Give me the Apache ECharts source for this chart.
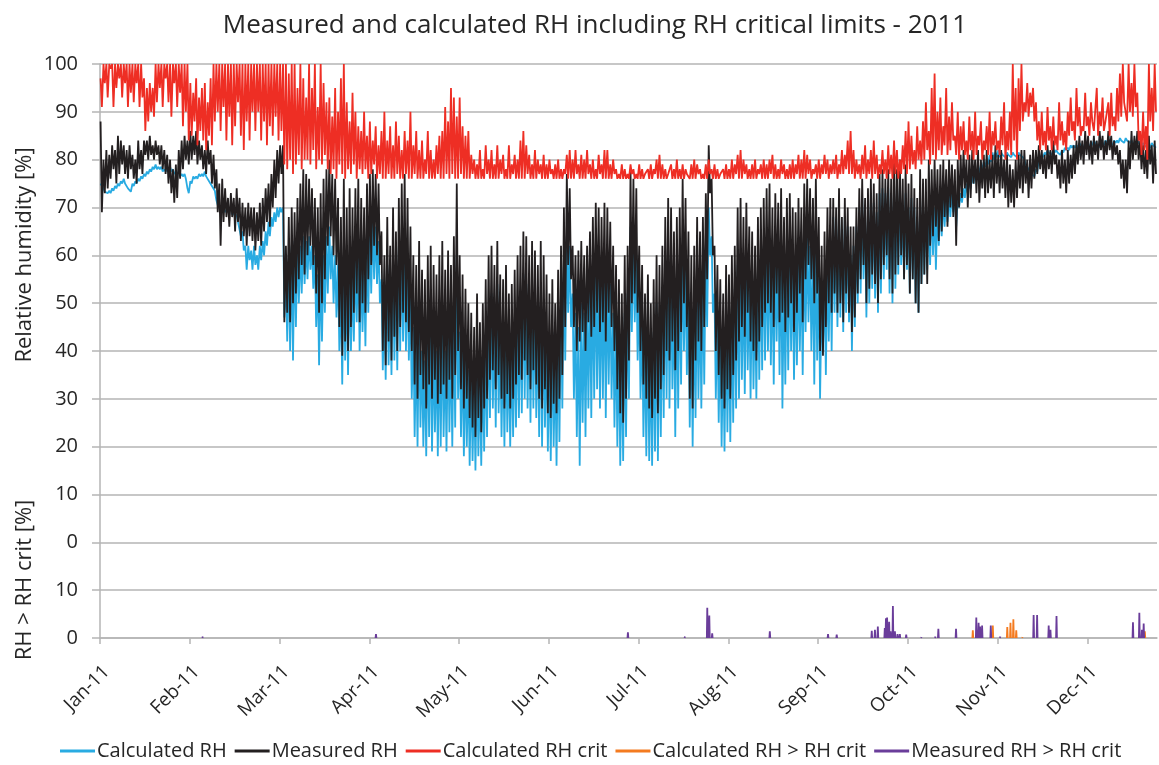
<!DOCTYPE html>
<html>
<head>
<meta charset="utf-8">
<script src="https://cdn.jsdelivr.net/npm/echarts@6/dist/echarts.min.js"></script>
<style>html,body{margin:0;padding:0;background:#fff;}#chart{width:1159px;height:765px;}</style>
</head>
<body>
<div id="chart"></div>
<script>
// x = day of year 2011 (0 = 1 Jan); the original axis labels every 31st day
const monthLabels = ['Jan-11','Feb-11','Mar-11','Apr-11','May-11','Jun-11','Jul-11','Aug-11','Sep-11','Oct-11','Nov-11','Dec-11'];

// Calculated RH crit: daily high / low envelope [%]
const critHi = [
97,100,100,100,100,100,100,100,100,100,
100,100,100,100,100,97,95,96,95,100,
100,100,100,100,100,100,100,100,100,100,
100,96,94,97,93,95,96,92,97,100,
100,100,100,100,100,100,100,100,100,100,
100,100,100,100,100,100,100,100,100,100,
100,100,100,100,100,98,100,100,95,100,
97,93,100,95,100,91,100,96,92,93,
89,95,90,97,100,92,88,94,90,87,
86,90,85,88,84,87,83,86,90,84,
87,83,88,85,82,86,84,90,83,86,
82,84,80,86,82,80,83,85,86,91,
88,95,93,89,93,87,85,86,81,80,
79,82,78,83,80,82,79,83,80,81,
78,83,79,81,80,84,86,83,81,79,
82,80,79,81,79,80,78,79,80,78,
78,81,82,80,82,79,81,80,82,79,
80,78,81,79,82,82,79,80,78,77,
79,78,77,79,78,77,79,78,77,78,
79,78,80,81,79,78,77,79,78,80,
78,79,78,77,79,80,79,78,77,79,
80,78,79,78,77,78,79,78,80,79,
81,82,80,79,78,79,80,78,79,80,
79,80,81,79,78,80,79,78,79,80,
79,81,80,82,81,80,78,79,80,79,
81,80,79,80,81,79,82,81,84,86,
82,80,79,81,83,80,82,84,81,79,
82,80,83,81,84,82,80,83,86,88,
85,82,87,84,88,92,86,95,98,90,
93,87,95,89,92,85,90,87,88,84,
89,86,90,85,88,84,87,90,86,88,
84,89,92,86,90,100,95,97,100,92,
96,94,95,92,88,90,86,91,87,89,
85,92,88,86,90,93,88,95,91,87,
94,89,92,86,95,90,93,88,92,94,
89,95,98,100,92,100,96,100,94,86,
90,87,100,95,100];
const critLo = [
91,96,93,99,91,95,97,93,96,91,
94,92,96,91,93,86,88,90,89,92,
95,91,97,92,89,96,91,94,87,90,
84,85,88,83,86,84,82,85,83,88,
90,86,91,84,89,83,87,92,85,82,
88,84,90,86,90,84,88,83,87,85,
89,84,86,79,78,80,77,79,81,78,
80,80,79,82,78,80,79,81,78,77,
78,76,79,77,76,78,77,79,76,78,
77,78,76,77,79,76,77,76,76,77,
76,76,77,76,76,77,76,76,77,76,
76,76,77,76,76,76,77,76,76,77,
76,77,76,76,77,76,76,76,77,76,
76,76,76,77,76,76,76,76,77,76,
76,76,77,76,76,76,76,77,76,76,
76,77,76,76,76,77,76,76,76,76,
77,76,76,76,77,76,76,76,77,76,
76,76,77,76,76,76,76,77,76,76,
76,76,76,77,76,76,76,76,77,76,
76,77,76,76,76,76,77,76,76,76,
76,76,77,76,76,76,77,76,76,76,
77,76,76,76,77,76,76,76,76,77,
76,76,77,76,76,76,76,77,76,76,
76,77,76,76,76,77,76,76,76,76,
77,76,76,76,77,76,77,76,76,77,
77,76,77,77,76,77,77,78,77,77,
76,77,76,77,76,77,76,77,76,77,
77,76,77,76,77,76,77,78,77,78,
79,78,80,79,80,82,79,81,80,82,
81,83,81,82,84,81,80,82,81,80,
82,80,81,83,80,82,81,80,83,82,
81,83,80,82,81,84,80,86,88,90,
89,91,88,84,82,83,82,84,82,83,
82,84,83,82,85,86,84,87,85,86,
87,85,88,86,85,87,86,88,85,87,
86,88,89,92,88,90,89,91,84,81,
82,80,88,86,90];

// Measured RH: daily high / low envelope [%]
const measHi = [
88,80,82,81,83,82,85,84,83,82,
83,81,80,84,82,84,84,85,83,84,
83,83,82,81,80,78,79,82,84,85,
84,86,85,86,84,83,82,84,82,81,
78,75,76,74,72,73,72,74,72,71,
70,71,70,70,69,71,72,74,75,77,
80,82,83,83,62,68,70,69,72,75,
78,77,76,74,72,70,73,76,78,80,
77,76,72,68,76,70,74,70,74,76,
72,70,75,77,78,77,75,65,60,68,
62,70,65,72,75,77,72,66,60,58,
63,57,55,60,62,58,56,60,63,57,
61,58,64,75,60,56,53,50,48,45,
52,46,50,55,60,62,58,63,56,55,
58,52,54,57,60,62,65,64,60,63,
61,58,63,60,56,52,55,50,57,62,
70,77,74,62,60,61,63,60,62,65,
68,71,70,68,71,70,67,62,58,55,
52,60,62,78,76,74,62,58,52,56,
50,55,60,58,62,68,72,70,65,68,
70,76,72,65,60,62,68,65,68,73,
83,76,62,58,55,52,58,56,60,62,
70,72,68,71,66,65,62,68,70,72,
74,75,70,73,71,74,68,72,73,70,
69,72,70,75,76,74,72,76,68,62,
65,70,72,72,70,74,68,72,70,66,
66,70,74,76,72,74,76,75,73,77,
78,76,78,76,83,78,80,76,79,75,
77,74,72,78,76,76,80,78,80,78,
79,80,78,80,79,78,80,81,82,80,
81,82,80,82,80,81,82,80,81,83,
81,82,80,81,79,78,80,81,82,82,
80,81,82,82,83,82,81,83,82,84,
81,80,82,80,82,81,83,84,85,84,
86,85,84,85,84,86,85,84,86,85,
84,83,82,80,80,84,86,85,86,84,
83,82,85,83,84];
const measLo = [
69,73,74,76,78,75,77,79,77,76,
78,76,75,78,77,81,80,81,80,81,
79,78,77,75,73,71,72,76,78,80,
79,80,81,79,80,78,77,79,75,74,
69,62,67,68,66,68,65,67,63,64,
62,64,63,61,63,62,65,67,66,70,
72,75,77,46,48,46,50,52,55,58,
56,60,62,58,52,48,50,55,62,64,
60,58,45,39,42,40,45,48,52,46,
50,48,55,58,62,60,58,40,37,42,
38,43,40,45,48,46,44,40,33,30,
35,32,28,33,30,34,29,31,33,30,
34,30,35,40,32,28,30,26,24,22,
26,23,28,30,34,36,32,35,30,28,
31,28,30,33,35,34,38,35,32,36,
33,30,28,32,27,26,29,27,30,35,
45,58,55,45,40,42,44,40,46,43,
45,48,44,46,42,48,45,40,32,27,
25,30,38,50,52,48,40,33,30,28,
26,30,27,32,35,40,38,42,36,40,
44,50,45,30,28,38,42,40,45,55,
73,60,40,35,30,28,32,30,35,38,
42,45,43,48,42,40,38,42,45,48,
50,48,45,52,46,48,44,47,50,44,
48,52,46,55,58,55,50,52,40,39,
45,50,48,52,48,50,46,52,48,44,
47,52,55,58,50,53,56,54,50,55,
58,60,55,52,56,58,60,55,58,52,
55,50,48,54,56,54,62,64,66,63,
65,68,66,70,68,62,70,72,74,70,
72,75,73,71,74,72,73,74,72,75,
73,74,72,70,71,70,72,74,73,75,
72,74,76,77,78,77,76,78,77,79,
76,74,75,73,75,76,77,79,80,79,
81,80,79,81,80,82,80,81,82,80,
81,79,76,74,73,78,80,81,80,78,
77,76,79,75,77];

// Calculated RH: daily high / low envelope [%]
const calcHi = [
75,74,73.5,73.5,74,74.5,75,75.5,76,75,
74,75,75.5,76,76.5,77,77.5,78,78.5,79,
78.5,78.5,78,78,78.5,78,77.5,77.5,77,77,
74,75.5,76.5,76.5,77,77,77.5,76.5,75.5,74.5,
71.5,70.5,70,69.5,70,70,69,68.5,67,65,
62,62,61,62,60,62,63,65,67,68,
69,70,70,70,56,60,62,63,64,62,
64,63,64,62,60,56,58,60,64,66,
62,60,58,52,60,55,58,56,60,62,
58,57,63,66,68,66,63,55,50,58,
52,60,55,62,62,60,58,52,45,42,
48,40,38,44,46,42,40,44,47,40,
46,42,48,60,44,40,38,36,36,33,
38,34,38,42,48,52,46,54,44,42,
45,40,41,44,48,50,56,54,48,53,
50,46,50,48,44,40,44,38,45,52,
60,64,62,52,48,45,50,48,52,54,
56,58,55,56,58,57,54,48,45,42,
40,48,52,66,64,60,52,48,42,46,
40,44,50,48,52,58,60,58,52,56,
58,62,58,52,48,50,55,52,56,62,
70,64,52,48,45,42,48,46,50,53,
58,60,56,60,54,56,52,58,60,62,
62,63,58,62,60,62,56,60,62,58,
57,60,58,63,64,62,60,63,56,52,
55,60,62,68,66,70,64,68,66,60,
62,66,70,72,68,70,72,71,69,73,
74,73,74,72,76,72,74,70,73,70,
72,70,67,72,71,70,70,72,70,71,
72,72,73,73,74,73,72,73,74,75,
76,77,78,78.5,79,79.5,80,81,81.5,81.5,
82,81.5,81,81.5,81,81.5,81,81.5,81,80,
78.5,77.5,77,78,80,81,81.5,82,81.5,82,
82,81.5,82,82.5,82.5,83,83,83,83.5,83,
83.5,83,83.5,84,83.5,83,83.5,84,84,83.5,
84,84,84.5,84,84.5,84,84,83.5,84,83.5,
83.5,83,83,83.5,83];
const calcLo = [
74.5,73.3,73,73,73.5,74,74.5,75,75,74,
73.3,74.5,75,75.5,76,76.5,77,77.5,78,78,
78,77.5,77.5,77.5,77.5,77,77,76.5,76.5,76,
73,75,76,76,76.5,76.5,76.5,75.5,74.5,73.5,
70.5,69.5,69,69,69.5,68.5,68,67,64,61,
57,59,57,58,57,59,60,62,64,66,
67,68,69,47,42,40,38,45,50,52,
54,55,57,53,45,37,42,48,52,55,
50,47,40,33,38,35,40,42,46,40,
44,41,48,52,55,54,50,36,34,37,
35,38,36,40,42,40,38,30,22,20,
24,20,18,22,19,23,18,20,22,19,
23,20,24,30,22,18,20,16,17,15,
18,16,19,22,26,28,24,27,22,20,
23,20,22,24,26,27,30,28,25,28,
26,22,20,24,19,17,20,16,21,28,
38,48,45,30,22,16,25,22,28,26,
30,32,28,30,26,33,30,24,20,16,
17,22,30,44,46,38,30,22,18,17,
16,19,17,22,26,30,28,32,22,28,
33,40,35,24,20,26,30,28,33,45,
60,48,30,25,20,19,23,21,25,28,
30,34,31,36,30,32,30,34,36,38,
40,37,33,42,35,28,33,36,40,34,
37,40,35,44,46,40,33,38,30,40,
35,42,40,48,45,47,44,48,46,40,
45,50,52,55,47,50,53,51,48,52,
55,57,52,50,53,56,58,55,57,52,
55,50,48,54,56,57,58,60,57,62,
64,66,67,68,69,66,70,71,72,73,
74,75,76,77,78,78.5,79,79.5,80,80.5,
80.5,81,80.5,81,80.5,81,80.5,81,80.5,79,
78,77,76.5,77.5,79,80.5,81,81.5,81,81.5,
81.5,81,81.5,82,82,82.5,82.5,82.5,83,82.5,
83,82.5,83,83.5,83,82.5,83,83.5,83.5,83,
83.5,83.5,84,83.5,84,83.5,83.5,83,83.5,83,
83,82.5,82.5,83,82.5];

// Exceedance events (series is 0 outside these peaks): day of year, value [%]
const measExcDay = [35.5,95.3,182.3,202,209.7,210.4,211.4,231.3,251.4,254.4,266.5,267.6,268.6,271.0,271.4,271.8,272.5,273.0,273.8,274.5,275.4,276.2,278.4,283.7,288.5,289.5,295.6,302.6,303.4,303.9,304.6,307.6,310.9,322.4,323.6,327.6,328.2,330.3,356.7,358.9,359.8,360.4];
const measExcVal = [0.3,0.8,1.2,0.3,6.3,4.7,1.0,1.4,0.8,0.7,1.5,1.7,2.4,2.1,4.1,4.3,3.4,1.4,6.7,1.4,0.8,0.8,0.7,0.2,0.3,1.9,1.9,4.3,3.2,2.4,2.6,2.6,0.3,4.8,4.8,2.6,1.7,4.6,3.3,5.3,1.7,3.0];
const calcExcDay = [301.4,308.3,313.3,314.4,315.4,316.4,318.6,360.8];
const calcExcVal = [1.6,2.6,2.3,3.2,3.9,1.6,0.2,1.4];

const FONT = 'Open Sans';
const TXT = '#262626';
const GRID = '#b5b5b5';

function daily(lo, hi) {
  const out = [];
  for (let d = 0; d < lo.length; d++) {
    out.push([d + 0.2, hi[d]]);
    out.push([d + 0.65, lo[d]]);
  }
  return out;
}
function events(days, vals) {
  const out = [];
  for (let i = 0; i < days.length; i++) {
    out.push([days[i] - 0.15, 0], [days[i], vals[i]], [days[i] + 0.15, 0], [days[i] + 0.16, null]);
  }
  return out;
}
const tickDays = monthLabels.map((_, i) => i * 31);

const chart = echarts.init(document.getElementById('chart'));
const lineSeries = (name, color, data, yIdx, w) => ({
  name, type: 'line', data, yAxisIndex: yIdx, showSymbol: false, symbol: 'none',
  lineStyle: { color, width: w }, itemStyle: { color }, animation: false, connectNulls: false
});
chart.setOption({
  animation: false,
  title: {
    text: 'Measured and calculated RH including RH critical limits - 2011',
    left: 590, top: 8, textAlign: 'center',
    textStyle: { fontFamily: FONT, fontSize: 26, fontWeight: 'normal', color: TXT }
  },
  legend: {
    left: 55, top: 736, icon: 'rect', itemWidth: 35, itemHeight: 3, itemGap: 8,
    textStyle: { fontFamily: FONT, fontSize: 20, color: TXT, padding: [0, 0, 0, -3] },
    data: ['Calculated RH', 'Measured RH', 'Calculated RH crit', 'Calculated RH > RH crit', 'Measured RH > RH crit']
  },
  grid: { left: 100, right: 2, top: 64, bottom: 127, containLabel: false },
  xAxis: {
    type: 'value', min: 0, max: 365, interval: 31,
    axisLine: { onZero: false, lineStyle: { color: GRID, width: 1.5 } },
    axisTick: { show: true, length: 6, customValues: tickDays, lineStyle: { color: GRID, width: 1.5 } },
    axisLabel: {
      customValues: tickDays, rotate: 45, margin: 24, verticalAlign: 'top', align: 'right',
      fontFamily: FONT, fontSize: 19, color: TXT,
      formatter: v => { const i = Math.round(v / 31); return (i < 12 && Math.abs(v - i * 31) < 0.01) ? monthLabels[i] : ''; }
    },
    splitLine: { show: false }
  },
  yAxis: [
    {
      type: 'value', min: -20, max: 100, interval: 10,
      axisLine: { show: true, onZero: false, lineStyle: { color: GRID, width: 1.5 } },
      axisTick: { show: true, length: 8, lineStyle: { color: GRID, width: 1.5 } },
      axisLabel: { margin: 22, fontFamily: FONT, fontSize: 20, color: TXT, formatter: v => String(v < 0 ? v + 20 : v) },
      splitLine: { show: true, lineStyle: { color: GRID, width: 1.5 } }
    },
    { type: 'value', min: 0, max: 120, show: false }
  ],
  graphic: [
    { type: 'text', x: 25, y: 255, rotation: Math.PI / 2,
      style: { text: 'Relative humidity [%]', font: '22px "Open Sans"', fill: TXT, textAlign: 'center', textVerticalAlign: 'middle' } },
    { type: 'text', x: 25, y: 580, rotation: Math.PI / 2,
      style: { text: 'RH > RH crit [%]', font: '22px "Open Sans"', fill: TXT, textAlign: 'center', textVerticalAlign: 'middle' } }
  ],
  series: [
    lineSeries('Calculated RH', '#29abe2', daily(calcLo, calcHi), 0, 1.8),
    lineSeries('Measured RH', '#231f20', daily(measLo, measHi), 0, 1.8),
    lineSeries('Calculated RH crit', '#ee2e24', daily(critLo, critHi), 0, 1.8),
    lineSeries('Calculated RH > RH crit', '#f47b20', events(calcExcDay, calcExcVal), 1, 1.8),
    lineSeries('Measured RH > RH crit', '#6a3d9a', events(measExcDay, measExcVal), 1, 1.8)
  ]
});
</script>
</body>
</html>
